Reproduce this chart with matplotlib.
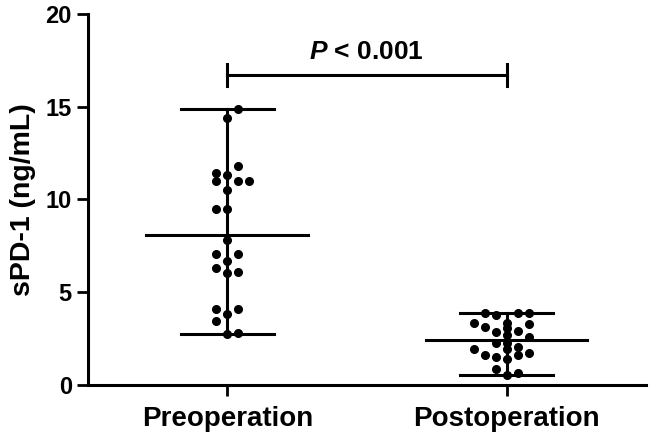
import numpy as np
import matplotlib
matplotlib.use('Agg')
import matplotlib.pyplot as plt

plt.rcParams['font.family'] = ['Liberation Sans', 'DejaVu Sans']
plt.rcParams['font.weight'] = 'bold'
plt.rcParams['mathtext.fontset'] = 'custom'
plt.rcParams['mathtext.it'] = 'Liberation Sans:italic:bold'
plt.rcParams['mathtext.rm'] = 'Liberation Sans:bold'

# data
groups = ['Preoperation', 'Postoperation']
pre_vals = [14.9, 14.4, 11.8, 11.45, 11.3, 11.0, 11.0, 11.0, 10.5, 9.5, 9.5, 7.8,
            7.06, 7.06, 6.7, 6.29, 6.05, 6.1, 4.11, 4.11, 3.8, 3.47, 2.75, 2.82]
pre_cols = [1, 0, 1, -1, 0, -1, 1, 2, 0, -1, 0, 0,
            -1, 1, 0, -1, 0, 1, -1, 1, 0, -1, 0, 1]
post_vals = [3.9, 3.77, 3.86, 3.9, 3.32, 3.14, 3.32, 3.29, 2.84, 3.05, 2.93, 2.7, 2.6,
             2.28, 2.28, 1.92, 1.62, 1.53, 1.92, 2.07, 1.62, 1.7, 1.4, 0.84, 0.63, 0.52]
post_cols = [-2, -1, 1, 2, -3, -2, 0, 2, -1, 0, 1, 0, 2,
             -1, 0, -3, -2, -1, 0, 1, 1, 2, 0, -1, 1, 0]
p_text = '$\\mathit{P}$ < 0.001'

fig = plt.figure(figsize=(6.5, 4.34), dpi=100)
ax = fig.add_axes([0.135, 0.113, 0.859, 0.855])

spacing = 0.0394
for i, (vals, cols) in enumerate([(pre_vals, pre_cols), (post_vals, post_cols)]):
    vals = np.array(vals)
    xs = i + np.array(cols) * spacing
    ax.plot(xs, vals, 'o', color='black', markersize=5.5, zorder=3)
    m = vals.mean()
    lo, hi = vals.min(), vals.max()
    ax.plot([i - 0.29, i + 0.29], [m, m], color='black', lw=2.2)
    ax.plot([i, i], [lo, hi], color='black', lw=2.2)
    ax.plot([i - 0.167, i + 0.167], [hi, hi], color='black', lw=2.2)
    ax.plot([i - 0.167, i + 0.167], [lo, lo], color='black', lw=2.2)

# significance bracket
yb = 16.7
ax.plot([0, 1], [yb, yb], color='black', lw=2.2, clip_on=False)
ax.plot([0, 0], [yb - 0.6, yb + 0.6], color='black', lw=2.2, clip_on=False)
ax.plot([1, 1], [yb - 0.6, yb + 0.6], color='black', lw=2.2, clip_on=False)
ax.text(0.5, 17.3, p_text, ha='center', va='bottom', fontsize=19, fontweight='bold')

ax.set_xlim(-0.5, 1.5)
ax.set_ylim(0, 20)
ax.set_yticks([0, 5, 10, 15, 20])
ax.set_xticks([0, 1])
ax.set_xticklabels(groups, fontsize=20, fontweight='bold')
ax.tick_params(axis='y', labelsize=17, width=2, length=8)
ax.tick_params(axis='x', width=2, length=8, pad=7)
ax.set_ylabel('sPD-1 (ng/mL)', fontsize=20.5, fontweight='bold', labelpad=7)
for s in ['top', 'right']:
    ax.spines[s].set_visible(False)
for s in ['left', 'bottom']:
    ax.spines[s].set_linewidth(2.2)

fig.savefig('out.png', dpi=100)
